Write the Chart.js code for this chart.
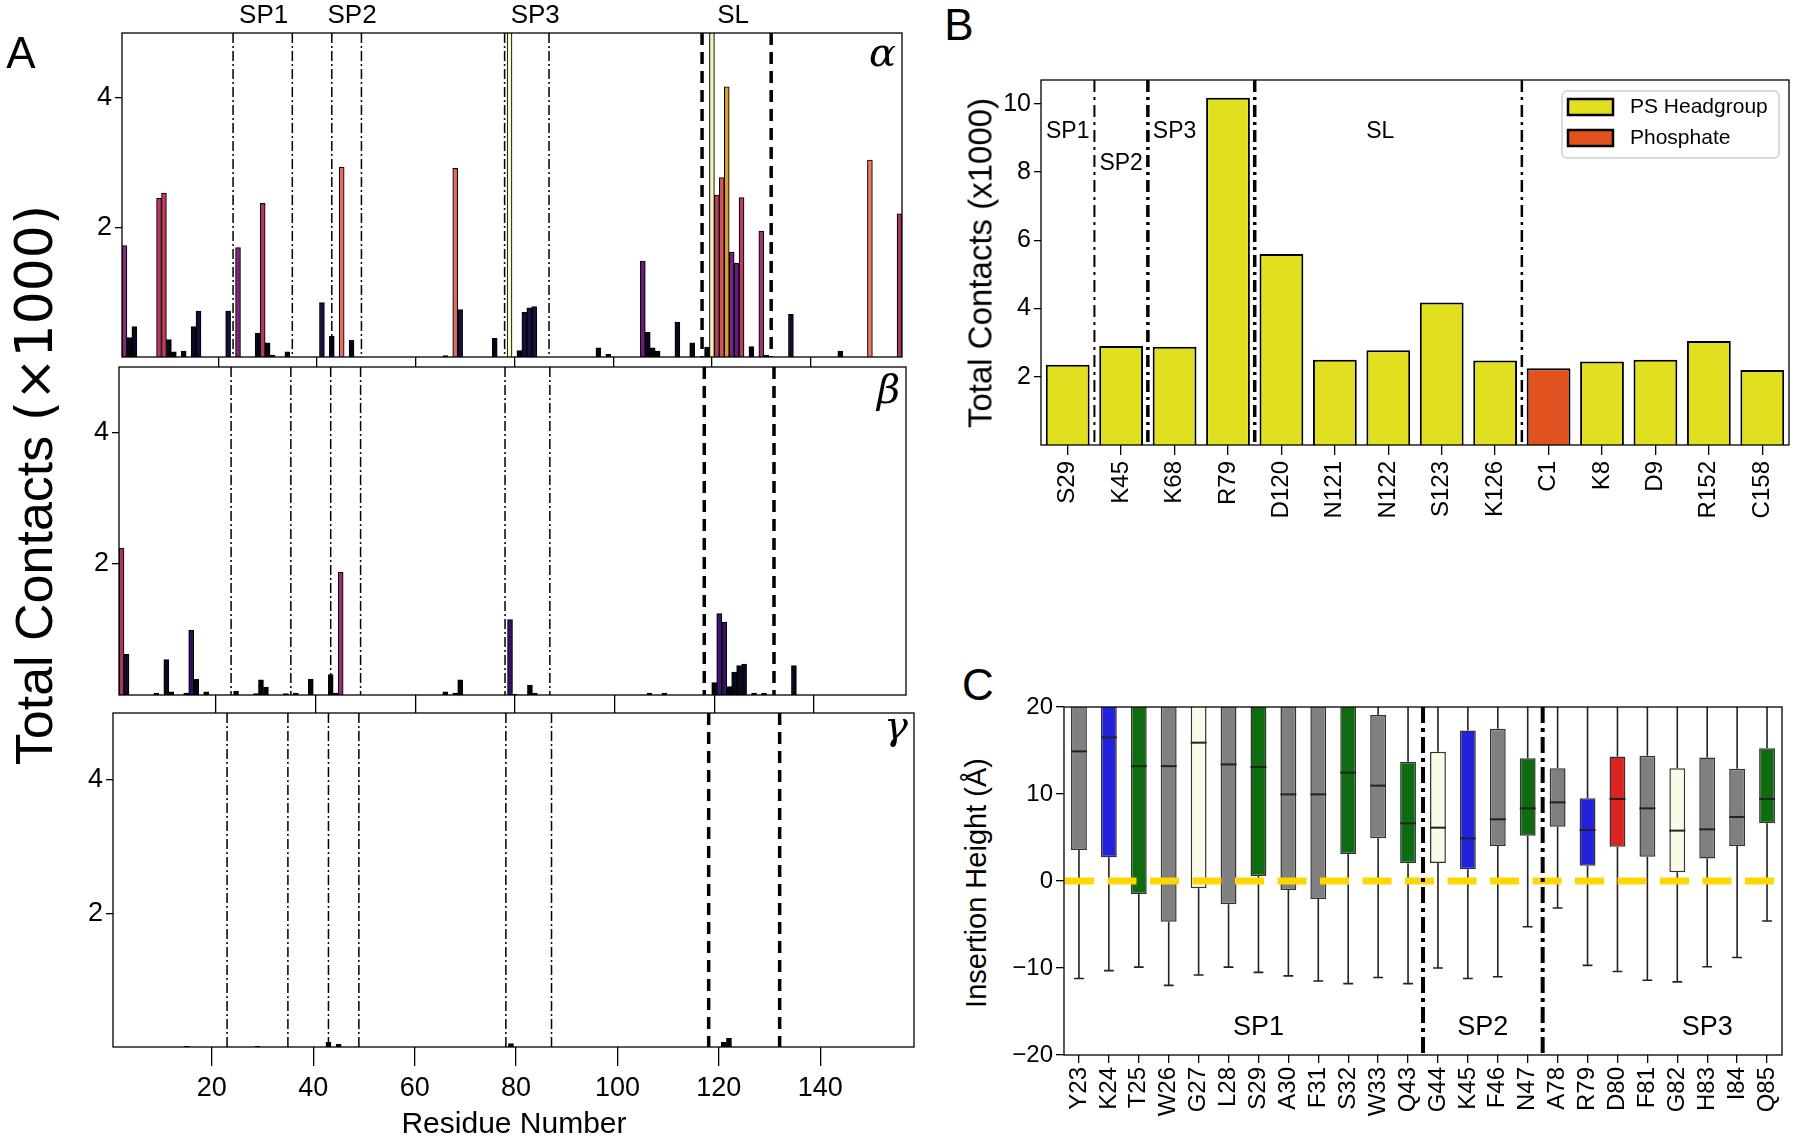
<!DOCTYPE html>
<html>
<head>
<meta charset="utf-8">
<script src="https://cdn.jsdelivr.net/npm/chart.js@4.4.1/dist/chart.umd.min.js"></script>
<style>
body { margin: 0; background: #fff; }
#fig { position: relative; width: 1800px; height: 1141px; overflow: hidden; font-family: 'Liberation Sans', Arial, sans-serif; color: #000; }
#fig canvas { position: absolute; }
.lbl { position: absolute; white-space: nowrap; line-height: 1; transform: translate(-50%, -50%); }
.rot { transform: translate(-50%, -50%) rotate(-90deg); }
</style>
</head>
<body>
<div id="fig">
  <canvas id="alpha"></canvas>
  <canvas id="beta"></canvas>
  <canvas id="gamma"></canvas>
  <canvas id="chartB"></canvas>
  <canvas id="chartC"></canvas>

  <div class="lbl" style="left:21px;top:53px;font-size:44px">A</div>
  <div class="lbl" style="left:959px;top:25px;font-size:44px">B</div>
  <div class="lbl" style="left:978px;top:685px;font-size:44px">C</div>

  <div class="lbl rot" style="left:34px;top:485px;font-size:52px">Total Contacts <span style="font-family:'DejaVu Sans'">(×1000)</span></div>
  <div class="lbl" style="left:514px;top:1123px;font-size:30px">Residue Number</div>
  <div class="lbl rot" style="left:980px;top:263px;font-size:33px">Total Contacts (x1000)</div>
  <div class="lbl rot" style="left:976px;top:883px;font-size:29px">Insertion Height (Å)</div>
</div>

<script>
// ---------- panel A : contacts per residue ----------
const residueTicks = [20, 40, 60, 80, 100, 120, 140]
const contactTicks = [2, 4]
const spLines = [23, 35, 43, 49, 78, 87]
const slLines = [118, 132]
const regionNames = ['SP1', 'SP2', 'SP3', 'SL']
const regionLabelX = [29.2, 47.1, 84.2, 124.3]

const alphaRes = [1, 2, 3, 8, 9, 10, 11, 13, 15, 16, 22, 24, 28, 29, 30, 31, 34, 41, 43, 45, 47, 66, 68, 69, 76, 79,
  81, 82, 83, 84, 97, 99, 106, 107, 108, 109, 113, 116, 119, 120, 121, 122, 123, 124, 125, 126, 128, 130, 131, 136, 146, 152, 158]
const alphaVal = [1.72, 0.30, 0.47, 2.45, 2.53, 0.27, 0.08, 0.09, 0.47, 0.71, 0.71, 1.69, 0.37, 2.37, 0.22, 0.03, 0.08, 0.84, 0.32, 2.93, 0.26, 0.02, 2.91, 0.73, 0.29, 10.2,
  0.10, 0.69, 0.76, 0.78, 0.14, 0.04, 1.48, 0.38, 0.14, 0.09, 0.54, 0.22, 0.15, 5.6, 2.50, 2.77, 4.17, 1.62, 1.45, 2.46, 0.16, 1.94, 0.03, 0.66, 0.09, 3.04, 2.21]

const betaRes = [1, 2, 8, 10, 11, 14, 15, 16, 18, 24, 28, 29, 30, 34, 36, 39, 43, 44, 45, 66, 68, 69, 79, 80, 83, 84,
  107, 110, 120, 121, 122, 123, 124, 125, 126, 128, 130, 136]
const betaVal = [2.24, 0.62, 0.03, 0.54, 0.05, 0.03, 0.99, 0.24, 0.05, 0.06, 0.02, 0.23, 0.12, 0.02, 0.03, 0.24, 0.31, 0.03, 1.87, 0.05, 0.03, 0.23, 1.15, 0.01, 0.15, 0.03,
  0.03, 0.03, 0.19, 1.24, 1.11, 0.13, 0.35, 0.45, 0.47, 0.03, 0.03, 0.45]

const gammaRes = [15, 29, 43, 45, 79, 121, 122]
const gammaVal = [0.01, 0.01, 0.07, 0.04, 0.05, 0.07, 0.13]

// ---------- panel B : top residues ----------
const bLabels = ['S29', 'K45', 'K68', 'R79', 'D120', 'N121', 'N122', 'S123', 'K126', 'C1', 'K8', 'D9', 'R152', 'C158']
const headgroupVals = [2.35, 2.90, 2.88, 10.18, 5.60, 2.50, 2.78, 4.18, 2.48, null, 2.45, 2.50, 3.05, 2.20]
const phosphateVals = [null, null, null, null, null, null, null, null, null, 2.25, null, null, null, null]
const bTicks = [2, 4, 6, 8, 10]
const bLines = [0.5, 1.5, 3.5, 8.5]
const bRegionX = [0, 1, 2, 5.85]
const bRegionY = [9.2, 8.25, 9.2, 9.2]

// ---------- panel C : insertion heights ----------
const cLabels = ['Y23', 'K24', 'T25', 'W26', 'G27', 'L28', 'S29', 'A30', 'F31', 'S32', 'W33', 'Q43',
  'G44', 'K45', 'F46', 'N47', 'A78', 'R79', 'D80', 'F81', 'G82', 'H83', 'I84', 'Q85']
const cLow = [-11.2, -10.3, -9.9, -12.0, -10.8, -9.9, -10.5, -10.9, -11.5, -11.8, -11.1, -11.8,
  -10.0, -11.2, -11.0, -5.25, -3.1, -9.7, -10.4, -11.4, -11.6, -9.85, -8.8, -4.6]
const cQ1 = [3.56, 2.72, -1.49, -4.67, -0.84, -2.68, 0.57, -1.03, -2.07, 3.10, 4.90, 2.03,
  2.07, 1.34, 4.02, 5.21, 6.25, 1.76, 3.95, 2.8, 1.0, 2.6, 4.02, 6.63]
const cMed = [14.9, 16.5, 13.2, 13.2, 15.9, 13.4, 13.1, 9.96, 9.96, 12.45, 10.96, 6.63,
  6.13, 4.9, 7.09, 8.35, 9.04, 5.86, 9.43, 8.35, 5.79, 5.94, 7.36, 9.43]
const cQ3 = [22.5, 23.0, 22.0, 22.5, 23.5, 22.0, 22.0, 21.5, 21.5, 22.0, 19.08, 13.7,
  14.87, 17.3, 17.5, 14.1, 12.95, 9.5, 14.3, 14.4, 12.95, 14.2, 12.9, 15.25]
const cHigh = [28, 28, 28, 28, 28, 28, 28, 27, 27, 28, 27, 24, 25, 26, 26, 24, 22, 21, 24, 24, 22, 23, 22, 24]
const cTicks = [-20, -10, 0, 10, 20]
const cLines = [11.5, 15.5]
const cRegionNames = ['SP1', 'SP2', 'SP3']
const cRegionX = [6.0, 13.5, 21.0]
const cRegionY = -16.8

Chart.defaults.font.family = "'Liberation Sans', Arial, sans-serif"
Chart.defaults.color = '#000'

// magma-like colour ramp for the contact bars
const rampStops = [[0, '#000004'], [0.5, '#0a0722'], [0.8, '#1c1044'], [1.2, '#3d0f70'], [1.5, '#6a1c80'],
  [1.75, '#8a2a7e'], [2.0, '#a83374'], [2.25, '#a8365e'], [2.5, '#bb3d5c'], [2.8, '#d65a5c'],
  [2.95, '#e8705e'], [3.1, '#f07e62'], [4.2, '#d9a02d'], [5.3, '#f5f0b0'], [6, '#fafac4']]

let hexRgb = function (h) {
  return [parseInt(h.slice(1, 3), 16), parseInt(h.slice(3, 5), 16), parseInt(h.slice(5, 7), 16)]
}

let contactColor = function (v) {
  if (v >= rampStops[rampStops.length - 1][0]) return rampStops[rampStops.length - 1][1]
  for (let i = 1; i < rampStops.length; i++) {
    if (v <= rampStops[i][0]) {
      const a = rampStops[i - 1], b = rampStops[i]
      const t = (v - a[0]) / (b[0] - a[0])
      const ca = hexRgb(a[1]), cb = hexRgb(b[1])
      const c = ca.map((x, k) => Math.round(x + (cb[k] - x) * t))
      return 'rgb(' + c.join(',') + ')'
    }
  }
}

let residueColor = function (lbl) {
  const aa = lbl[0]
  if (aa === 'K' || aa === 'R') return '#2222dd'
  if (aa === 'D' || aa === 'E') return '#dd2222'
  if (aa === 'G') return '#fbfae6'
  if ('STNQ'.includes(aa)) return '#0f6b0f'
  return '#808080'
}

let placeCanvas = function (id, plot, pad) {
  const c = document.getElementById(id)
  const w = plot.r - plot.l + pad.l + pad.r
  const h = plot.b - plot.t + pad.t + pad.b
  c.width = w
  c.height = h
  c.style.left = (plot.l - pad.l) + 'px'
  c.style.top = (plot.t - pad.t) + 'px'
  c.style.width = w + 'px'
  c.style.height = h + 'px'
  return c
}

let fixWidth = w => s => { s.width = w; s.paddingTop = 0; s.paddingBottom = 0 }
let fixHeight = h => s => { s.height = h; s.paddingLeft = 0; s.paddingRight = 0 }
let setTicks = list => s => { s.ticks = list.map(v => ({ value: v })) }

let vline = function (ctx, x, a) {
  ctx.beginPath()
  ctx.moveTo(x, a.top)
  ctx.lineTo(x, a.bottom)
  ctx.stroke()
}

// dashed region lines, frame, greek letter and region names for panel A
const panelDecor = {
  id: 'panelDecor',
  afterDatasetsDraw(chart, args, opts) {
    const ctx = chart.ctx, a = chart.chartArea, x = chart.scales.x
    ctx.save()
    ctx.strokeStyle = '#000'
    ctx.lineWidth = 1.5
    ctx.setLineDash([10, 3, 2, 3])
    spLines.forEach(v => vline(ctx, x.getPixelForValue(v), a))
    ctx.lineWidth = 3.5
    ctx.setLineDash([12, 7])
    slLines.forEach(v => vline(ctx, x.getPixelForValue(v), a))
    ctx.setLineDash([])
    ctx.lineWidth = 1.3
    ctx.strokeRect(a.left, a.top, a.right - a.left, a.bottom - a.top)
    ctx.fillStyle = '#000'
    ctx.font = "italic 40px 'DejaVu Serif'"
    ctx.textAlign = 'right'
    ctx.textBaseline = 'alphabetic'
    ctx.fillText(opts.greek, a.right - 6, a.top + opts.greekDy)
    if (opts.regions) {
      ctx.font = "26px 'Liberation Sans'"
      ctx.textAlign = 'center'
      ctx.textBaseline = 'middle'
      regionNames.forEach((n, i) => ctx.fillText(n, x.getPixelForValue(regionLabelX[i]), a.top - 17))
    }
    ctx.restore()
  }
}

let contactPanel = function (id, plot, pad, res, vals, greek, greekDy, showX) {
  return new Chart(placeCanvas(id, plot, pad), {
    type: 'bar',
    data: {
      datasets: [{
        data: res.map((r, i) => ({ x: r, y: vals[i] })),
        backgroundColor: vals.map(contactColor),
        borderColor: '#000',
        borderWidth: 1.1,
        barPercentage: 1,
        categoryPercentage: 1
      }]
    },
    options: {
      responsive: false,
      animation: false,
      devicePixelRatio: 1,
      layout: { padding: { top: pad.t, right: pad.r, left: 0, bottom: 0 } },
      plugins: { legend: { display: false }, tooltip: { enabled: false },
        panelDecor: { greek: greek, greekDy: greekDy, regions: id === 'alpha' } },
      scales: {
        x: {
          type: 'linear', min: 0.5, max: 158.5, offset: false,
          afterBuildTicks: setTicks(residueTicks),
          afterFit: fixHeight(pad.b),
          border: { display: false },
          grid: { offset: false, drawOnChartArea: false, color: '#000', lineWidth: 1.3, tickLength: showX ? 19 : pad.b },
          ticks: { display: showX, font: { size: 27 }, color: '#000', padding: 6, maxRotation: 0 }
        },
        y: {
          min: 0, max: 5,
          afterBuildTicks: setTicks(contactTicks),
          afterFit: fixWidth(pad.l),
          border: { display: false },
          grid: { drawOnChartArea: false, color: '#000', lineWidth: 1.3, tickLength: 7 },
          ticks: { font: { size: 27 }, color: '#000', padding: 3 }
        }
      }
    },
    plugins: [panelDecor]
  })
}

contactPanel('alpha', { l: 122, t: 33, r: 902, b: 357 }, { l: 122, t: 33, r: 17, b: 10 }, alphaRes, alphaVal, 'α', 33, false)
contactPanel('beta', { l: 119, t: 367, r: 906, b: 695 }, { l: 119, t: 20, r: 17, b: 18 }, betaRes, betaVal, 'β', 36, false)
contactPanel('gamma', { l: 113, t: 713, r: 914, b: 1047 }, { l: 113, t: 20, r: 17, b: 94 }, gammaRes, gammaVal, 'γ', 26, true)

// ---------- panel B ----------
const bDecor = {
  id: 'bDecor',
  afterDatasetsDraw(chart) {
    const ctx = chart.ctx, a = chart.chartArea, x = chart.scales.x, y = chart.scales.y
    const widths = [2, 3.5, 3.5, 2.5]
    ctx.save()
    ctx.strokeStyle = '#000'
    ctx.setLineDash([12, 5, 3, 5])
    bLines.forEach((v, i) => { ctx.lineWidth = widths[i]; vline(ctx, x.getPixelForValue(v), a) })
    ctx.setLineDash([])
    ctx.lineWidth = 1.3
    ctx.strokeRect(a.left, a.top, a.right - a.left, a.bottom - a.top)
    ctx.font = "23px 'Liberation Sans'"
    ctx.textAlign = 'center'
    ctx.textBaseline = 'middle'
    regionNames.forEach((n, i) => {
      const px = x.getPixelForValue(bRegionX[i]), py = y.getPixelForValue(bRegionY[i])
      const w = ctx.measureText(n).width
      ctx.fillStyle = '#fff'
      ctx.fillRect(px - w / 2, py - 12, w, 24)
      ctx.fillStyle = '#000'
      ctx.fillText(n, px, py)
    })
    // legend
    const lx = a.right - 227, ly = a.top + 11, lw = 217, lh = 67
    ctx.fillStyle = 'rgba(255,255,255,0.85)'
    ctx.strokeStyle = '#d0d0d0'
    ctx.lineWidth = 1.5
    ctx.beginPath()
    ctx.roundRect(lx, ly, lw, lh, 5)
    ctx.fill()
    ctx.stroke()
    chart.data.datasets.forEach((ds, i) => {
      const py = ly + 16 + i * 31
      ctx.fillStyle = ds.backgroundColor
      ctx.fillRect(lx + 6, py - 8, 45, 16)
      ctx.strokeStyle = '#000'
      ctx.lineWidth = 2.5
      ctx.strokeRect(lx + 6, py - 8, 45, 16)
      ctx.fillStyle = '#000'
      ctx.font = "21px 'Liberation Sans'"
      ctx.textAlign = 'left'
      ctx.fillText(ds.label, lx + 68, py)
    })
    ctx.restore()
  }
}

const padB = { l: 70, t: 20, r: 11, b: 100 }
new Chart(placeCanvas('chartB', { l: 1041, t: 80, r: 1789, b: 445 }, padB), {
  type: 'bar',
  data: {
    labels: bLabels,
    datasets: [
      { label: 'PS Headgroup', data: headgroupVals, backgroundColor: '#e0e020', borderColor: '#000', borderWidth: 2,
        grouped: false, barPercentage: 0.82, categoryPercentage: 1 },
      { label: 'Phosphate', data: phosphateVals, backgroundColor: '#e0531f', borderColor: '#000', borderWidth: 2,
        grouped: false, barPercentage: 0.82, categoryPercentage: 1 }
    ]
  },
  options: {
    responsive: false,
    animation: false,
    devicePixelRatio: 1,
    layout: { padding: { top: padB.t, right: padB.r, left: 0, bottom: 0 } },
    plugins: { legend: { display: false }, tooltip: { enabled: false } },
    scales: {
      x: {
        afterFit: fixHeight(padB.b),
        border: { display: false },
        grid: { offset: false, drawOnChartArea: false, color: '#000', lineWidth: 1.3, tickLength: 10 },
        ticks: { font: { size: 24 }, color: '#000', minRotation: 90, maxRotation: 90, padding: 6, autoSkip: false }
      },
      y: {
        min: 0, max: 10.7,
        afterBuildTicks: setTicks(bTicks),
        afterFit: fixWidth(padB.l),
        border: { display: false },
        grid: { drawOnChartArea: false, color: '#000', lineWidth: 1.3, tickLength: 7 },
        ticks: { font: { size: 25 }, color: '#000', padding: 3 }
      }
    }
  },
  plugins: [bDecor]
})

// ---------- panel C ----------
const cDecor = {
  id: 'cDecor',
  beforeDatasetsDraw(chart) {
    const ctx = chart.ctx, a = chart.chartArea, y = chart.scales.y
    const boxes = chart.getDatasetMeta(0).data
    ctx.save()
    ctx.beginPath()
    ctx.rect(a.left, a.top, a.right - a.left, a.bottom - a.top)
    ctx.clip()
    ctx.strokeStyle = '#222'
    ctx.lineWidth = 1.6
    boxes.forEach((b, i) => {
      const cap = b.width * 0.31
      const yl = y.getPixelForValue(cLow[i]), yh = y.getPixelForValue(cHigh[i])
      ctx.beginPath()
      ctx.moveTo(b.x, yl); ctx.lineTo(b.x, y.getPixelForValue(cQ1[i]))
      ctx.moveTo(b.x, yh); ctx.lineTo(b.x, y.getPixelForValue(cQ3[i]))
      ctx.moveTo(b.x - cap, yl); ctx.lineTo(b.x + cap, yl)
      ctx.moveTo(b.x - cap, yh); ctx.lineTo(b.x + cap, yh)
      ctx.stroke()
    })
    ctx.restore()
  },
  afterDatasetsDraw(chart) {
    const ctx = chart.ctx, a = chart.chartArea, x = chart.scales.x, y = chart.scales.y
    const boxes = chart.getDatasetMeta(0).data
    ctx.save()
    ctx.strokeStyle = '#222'
    ctx.lineWidth = 2
    boxes.forEach((b, i) => {
      const ym = y.getPixelForValue(cMed[i])
      ctx.beginPath()
      ctx.moveTo(b.x - b.width / 2, ym)
      ctx.lineTo(b.x + b.width / 2, ym)
      ctx.stroke()
    })
    ctx.strokeStyle = '#ffd700'
    ctx.lineWidth = 7
    ctx.setLineDash([29, 13.5])
    const y0 = y.getPixelForValue(0)
    ctx.beginPath()
    ctx.moveTo(a.left + 1, y0)
    ctx.lineTo(a.right, y0)
    ctx.stroke()
    ctx.strokeStyle = '#000'
    ctx.lineWidth = 4
    ctx.setLineDash([16, 5, 4, 5])
    cLines.forEach(v => vline(ctx, x.getPixelForValue(v), a))
    ctx.setLineDash([])
    ctx.lineWidth = 1.3
    ctx.strokeRect(a.left, a.top, a.right - a.left, a.bottom - a.top)
    ctx.fillStyle = '#000'
    ctx.font = "27px 'Liberation Sans'"
    ctx.textAlign = 'center'
    ctx.textBaseline = 'middle'
    cRegionNames.forEach((n, i) => ctx.fillText(n, x.getPixelForValue(cRegionX[i]), y.getPixelForValue(cRegionY)))
    ctx.restore()
  }
}

const padC = { l: 60, t: 20, r: 15, b: 86 }
new Chart(placeCanvas('chartC', { l: 1064, t: 707, r: 1782, b: 1055 }, padC), {
  type: 'bar',
  data: {
    labels: cLabels,
    datasets: [{
      data: cLabels.map((l, i) => [cQ1[i], cQ3[i]]),
      backgroundColor: cLabels.map(residueColor),
      borderColor: '#333',
      borderWidth: 1.5,
      borderSkipped: false,
      barPercentage: 0.53,
      categoryPercentage: 1
    }]
  },
  options: {
    responsive: false,
    animation: false,
    devicePixelRatio: 1,
    layout: { padding: { top: padC.t, right: padC.r, left: 0, bottom: 0 } },
    plugins: { legend: { display: false }, tooltip: { enabled: false } },
    scales: {
      x: {
        afterFit: fixHeight(padC.b),
        border: { display: false },
        grid: { offset: false, drawOnChartArea: false, color: '#000', lineWidth: 1.3, tickLength: 8 },
        ticks: { font: { size: 24 }, color: '#000', minRotation: 90, maxRotation: 90, padding: 4, autoSkip: false }
      },
      y: {
        min: -20, max: 20,
        afterBuildTicks: setTicks(cTicks),
        afterFit: fixWidth(padC.l),
        border: { display: false },
        grid: { drawOnChartArea: false, color: '#000', lineWidth: 1.3, tickLength: 8 },
        ticks: { font: { size: 24 }, color: '#000', padding: 3, callback: v => String(v).replace('-', '−') }
      }
    }
  },
  plugins: [cDecor]
})
</script>
</body>
</html>
